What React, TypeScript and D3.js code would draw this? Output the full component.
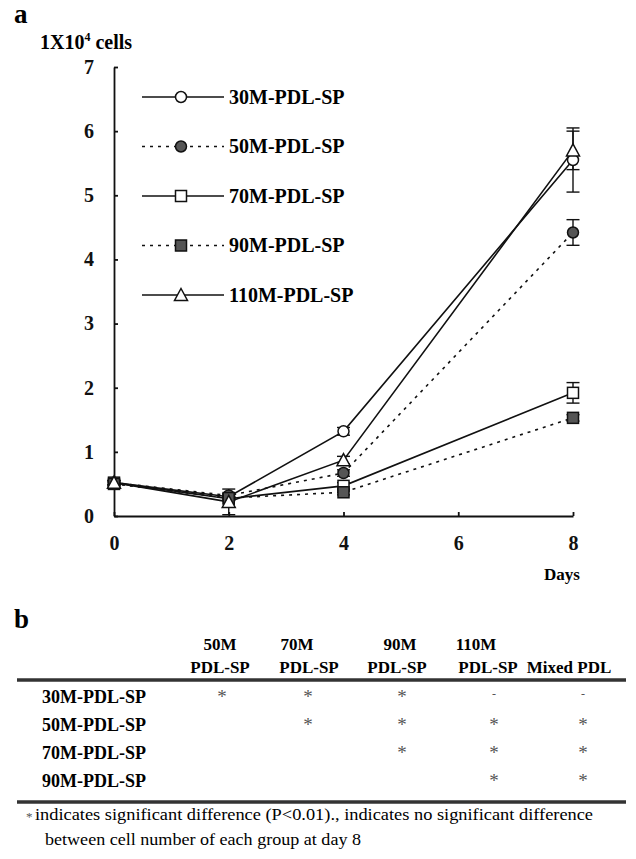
import React, { useRef, useEffect } from 'react';
import * as d3 from 'd3';

const days = [0, 2, 4, 8];
const seriesNames = ['30M-PDL-SP', '50M-PDL-SP', '70M-PDL-SP', '90M-PDL-SP', '110M-PDL-SP'];
const s30 = [0.52, 0.3, 1.32, 5.55];
const s50 = [0.52, 0.32, 0.67, 4.42];
const s70 = [0.52, 0.27, 0.47, 1.92];
const s90 = [0.5, 0.28, 0.37, 1.53];
const s110 = [0.52, 0.22, 0.87, 5.7];
const e30 = [0.04, 0.03, 0.06, 0.5];
const e50 = [0.03, 0.03, 0.05, 0.2];
const e70 = [0.03, 0.03, 0.05, 0.16];
const e90 = [0.03, 0.03, 0.04, 0.05];
const e110 = [0.03, 0.2, 0.06, 0.3];
const yTicks = [0, 1, 2, 3, 4, 5, 6, 7];
const xTicks = [0, 2, 4, 6, 8];

const colTop = ['50M', '70M', '90M', '110M', ''];
const colBottom = ['PDL-SP', 'PDL-SP', 'PDL-SP', 'PDL-SP', 'Mixed PDL'];
const rowHeads = ['30M-PDL-SP', '50M-PDL-SP', '70M-PDL-SP', '90M-PDL-SP'];
const marks = [
  ['*', '*', '*', '-', '-'],
  ['', '*', '*', '*', '*'],
  ['', '', '*', '*', '*'],
  ['', '', '', '*', '*']
];
const note1 = 'indicates significant difference (P<0.01)., indicates no significant difference';
const note2 = 'between cell number of each group at day 8';

type Shape = 'circle' | 'square' | 'triangle';
const styles: { shape: Shape; fill: string; dash: string | null }[] = [
  { shape: 'circle', fill: '#fff', dash: null },
  { shape: 'circle', fill: '#555', dash: '3,5' },
  { shape: 'square', fill: '#fff', dash: null },
  { shape: 'square', fill: '#555', dash: '3,5' },
  { shape: 'triangle', fill: '#fff', dash: null }
];

const serif = '"Liberation Serif", "DejaVu Serif", serif';

const App: React.FC = () => {
  const ref = useRef<SVGSVGElement | null>(null);

  useEffect(() => {
    if (!ref.current) return;
    const svg = d3.select(ref.current);
    svg.selectAll('*').remove();

    const values = [s30, s50, s70, s90, s110];
    const errs = [e30, e50, e70, e90, e110];

    const x = d3.scaleLinear().domain([0, 8]).range([114, 573]);
    const y = d3.scaleLinear().domain([0, 7]).range([516, 67]);

    svg.append('text').attr('x', 14).attr('y', 23).attr('font-family', serif)
      .attr('font-weight', 'bold').attr('font-size', 27).text('a');

    const yl = svg.append('text').attr('x', 40).attr('y', 49).attr('font-family', serif)
      .attr('font-weight', 'bold').attr('font-size', 20);
    yl.append('tspan').text('1X10');
    yl.append('tspan').attr('dy', -8).attr('font-size', 12).text('4');
    yl.append('tspan').attr('dy', 8).text(' cells');

    const yAxis = svg.append('g').attr('transform', 'translate(114,0)')
      .call(d3.axisLeft(y).tickValues(yTicks).tickSize(-4).tickSizeOuter(0).tickPadding(20).tickFormat(d3.format('d')));
    const xAxis = svg.append('g').attr('transform', 'translate(0,516)')
      .call(d3.axisBottom(x).tickValues(xTicks).tickSize(-4).tickSizeOuter(0).tickPadding(20).tickFormat(d3.format('d')));
    [yAxis, xAxis].forEach(a => {
      a.selectAll('path,line').attr('stroke', '#111').attr('stroke-width', 1.8);
      a.selectAll('text').attr('font-family', serif).attr('font-weight', 'bold')
        .attr('font-size', 20).attr('fill', '#111');
    });

    svg.append('text').attr('x', 562).attr('y', 580).attr('text-anchor', 'middle')
      .attr('font-family', serif).attr('font-weight', 'bold').attr('font-size', 17).text('Days');

    const drawMarker = (g: d3.Selection<SVGGElement, unknown, null, undefined>, cx: number, cy: number, i: number) => {
      const st = styles[i];
      const common = (s: d3.Selection<any, unknown, null, undefined>) =>
        s.attr('fill', st.fill).attr('stroke', '#111').attr('stroke-width', 1.5);
      if (st.shape === 'circle') common(g.append('circle').attr('cx', cx).attr('cy', cy).attr('r', 5.5));
      else if (st.shape === 'square') common(g.append('rect').attr('x', cx - 5.5).attr('y', cy - 5.5).attr('width', 11).attr('height', 11));
      else common(g.append('path').attr('d', `M${cx},${cy - 6.5}L${cx + 6.5},${cy + 5.5}L${cx - 6.5},${cy + 5.5}Z`));
    };

    const line = d3.line<number>().x((_, j) => x(days[j])).y(d => y(d));
    const plot = svg.append('g');

    values.forEach((vals, i) => {
      plot.append('path').datum(vals).attr('fill', 'none').attr('stroke', '#111')
        .attr('stroke-width', 1.6).attr('stroke-dasharray', styles[i].dash).attr('d', line);
    });
    values.forEach((vals, i) => {
      vals.forEach((v, j) => {
        const e = errs[i][j];
        const cx = x(days[j]);
        const eg = plot.append('g').attr('stroke', '#111').attr('stroke-width', 1.4);
        eg.append('line').attr('x1', cx).attr('x2', cx).attr('y1', y(v - e)).attr('y2', y(v + e));
        [v - e, v + e].forEach(t => eg.append('line').attr('x1', cx - 6.5).attr('x2', cx + 6.5).attr('y1', y(t)).attr('y2', y(t)));
      });
    });
    values.forEach((vals, i) => {
      vals.forEach((v, j) => drawMarker(plot, x(days[j]), y(v), i));
    });

    // legend
    const lg = svg.append('g');
    const rowY = d3.scalePoint<string>().domain(seriesNames).range([97, 295]);
    seriesNames.forEach((n, i) => {
      const ly = rowY(n) as number;
      lg.append('line').attr('x1', 142).attr('x2', 224).attr('y1', ly).attr('y2', ly)
        .attr('stroke', '#111').attr('stroke-width', 1.6).attr('stroke-dasharray', styles[i].dash);
      drawMarker(lg, 181, ly, i);
      lg.append('text').attr('x', 229).attr('y', ly + 6.5).attr('font-family', serif)
        .attr('font-weight', 'bold').attr('font-size', 20).text(n);
    });

    // table b
    svg.append('text').attr('x', 14).attr('y', 628).attr('font-family', serif)
      .attr('font-weight', 'bold').attr('font-size', 27).text('b');

    const topX = [220, 297, 400, 476, 569];
    const bottomX = [220, 309, 397, 488, 569];
    const markX = [222, 308, 402, 494, 583];
    colTop.forEach((t, k) => {
      if (!t) return;
      svg.append('text').attr('x', topX[k]).attr('y', 650).attr('text-anchor', 'middle')
        .attr('font-family', serif).attr('font-weight', 'bold').attr('font-size', 17).text(t);
    });
    colBottom.forEach((t, k) => {
      svg.append('text').attr('x', bottomX[k]).attr('y', 673).attr('text-anchor', 'middle')
        .attr('font-family', serif).attr('font-weight', 'bold').attr('font-size', 17).text(t);
    });

    [680, 802].forEach(ly => {
      svg.append('line').attr('x1', 17).attr('x2', 626).attr('y1', ly).attr('y2', ly)
        .attr('stroke', '#333').attr('stroke-width', 3.5);
    });

    const rowYs = d3.scalePoint<string>().domain(rowHeads).range([703, 787]);
    rowHeads.forEach((r, i) => {
      const ry = rowYs(r) as number;
      svg.append('text').attr('x', 42).attr('y', ry).attr('font-family', serif)
        .attr('font-weight', 'bold').attr('font-size', 18).text(r);
      marks[i].forEach((m, k) => {
        if (!m) return;
        svg.append('text').attr('x', markX[k]).attr('y', m === '-' ? ry - 5 : ry)
          .attr('text-anchor', 'middle').attr('font-family', serif)
          .attr('font-size', m === '-' ? 12 : 19).attr('fill', '#555').text(m);
      });
    });

    svg.append('text').attr('x', 26).attr('y', 821).attr('font-family', serif)
      .attr('font-size', 13).attr('fill', '#555').text('*');
    svg.append('text').attr('x', 35).attr('y', 820).attr('font-family', serif)
      .attr('font-size', 16).attr('textLength', 558).attr('lengthAdjust', 'spacingAndGlyphs').text(note1);
    svg.append('text').attr('x', 45).attr('y', 845).attr('font-family', serif)
      .attr('font-size', 16).attr('textLength', 316).attr('lengthAdjust', 'spacingAndGlyphs').text(note2);
  }, []);

  return (
    <svg ref={ref} width={636} height={859}
      style={{ position: 'absolute', left: 0, top: 0, background: '#fff' }} />
  );
};

export default App;
